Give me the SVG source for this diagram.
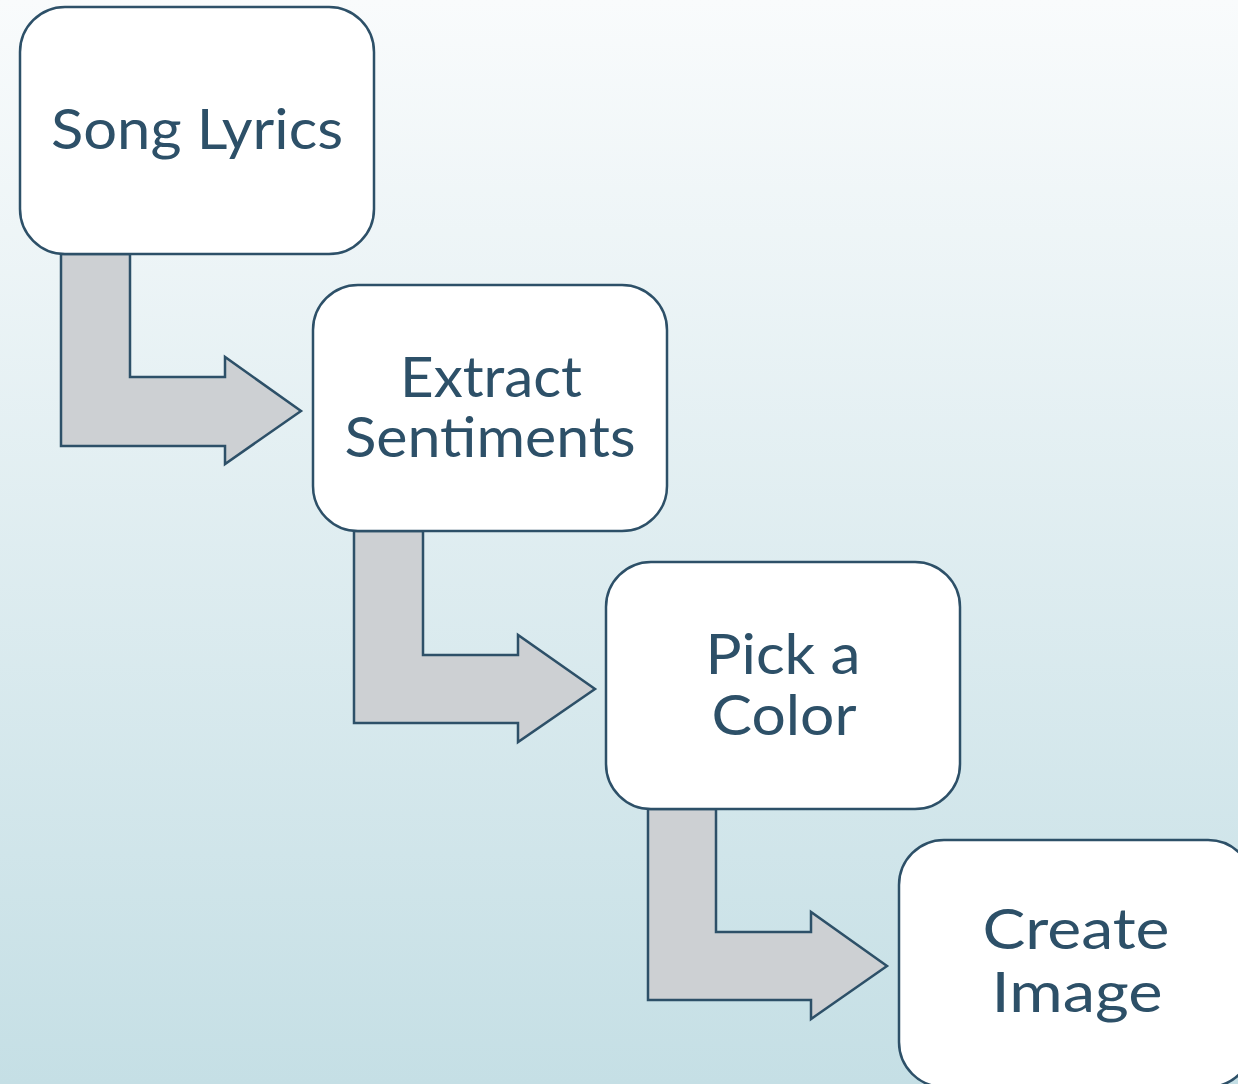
<svg xmlns="http://www.w3.org/2000/svg" width="1238" height="1084" viewBox="0 0 1238 1084">
<defs>
<linearGradient id="bg" x1="0" y1="0" x2="0" y2="1">
<stop offset="0" stop-color="#f9fbfc"/>
<stop offset="1" stop-color="#c5dfe5"/>
</linearGradient>
</defs>
<style>
.box{fill:#ffffff;stroke:#2d5068;stroke-width:2.5}
.arr{fill:#cdd0d3;stroke:#2d5068;stroke-width:2.5;stroke-linejoin:miter}
.lbl{font-family:Lato,"Liberation Sans",sans-serif;font-size:57px;fill:#2d5068;text-anchor:middle}
</style>
<rect x="0" y="0" width="1238" height="1084" fill="url(#bg)"/>
<g id="connectors">
<path class="arr" d="M61,254 H130 V377 H225 V357 L301,411 L225,464 V446 H61 Z"/>
<path class="arr" d="M354,531 H423 V655 H518 V635 L595,689 L518,742 V723 H354 Z"/>
<path class="arr" d="M648,809 H716 V932 H811 V912 L887,966 L811,1019 V1000 H648 Z"/>
</g>
<g id="node-song-lyrics">
<rect class="box" x="20" y="7" width="354" height="247" rx="45"/>
<text class="lbl" x="197" y="149" textLength="292" lengthAdjust="spacingAndGlyphs">Song Lyrics</text>
</g>
<g id="node-extract-sentiments">
<rect class="box" x="313" y="285" width="354" height="246" rx="45"/>
<text class="lbl" x="491" y="397" textLength="182" lengthAdjust="spacingAndGlyphs">Extract</text>
<text class="lbl" x="490" y="457" textLength="291" lengthAdjust="spacingAndGlyphs">Sentiments</text>
</g>
<g id="node-pick-a-color">
<rect class="box" x="606" y="562" width="354" height="247" rx="45"/>
<text class="lbl" x="783" y="674" textLength="155" lengthAdjust="spacingAndGlyphs">Pick a</text>
<text class="lbl" x="784" y="735" textLength="145" lengthAdjust="spacingAndGlyphs">Color</text>
</g>
<g id="node-create-image">
<rect class="box" x="899" y="840" width="354" height="247" rx="45"/>
<text class="lbl" x="1076" y="949" textLength="187" lengthAdjust="spacingAndGlyphs">Create</text>
<text class="lbl" x="1077" y="1012" textLength="171" lengthAdjust="spacingAndGlyphs">Image</text>
</g>
</svg>
